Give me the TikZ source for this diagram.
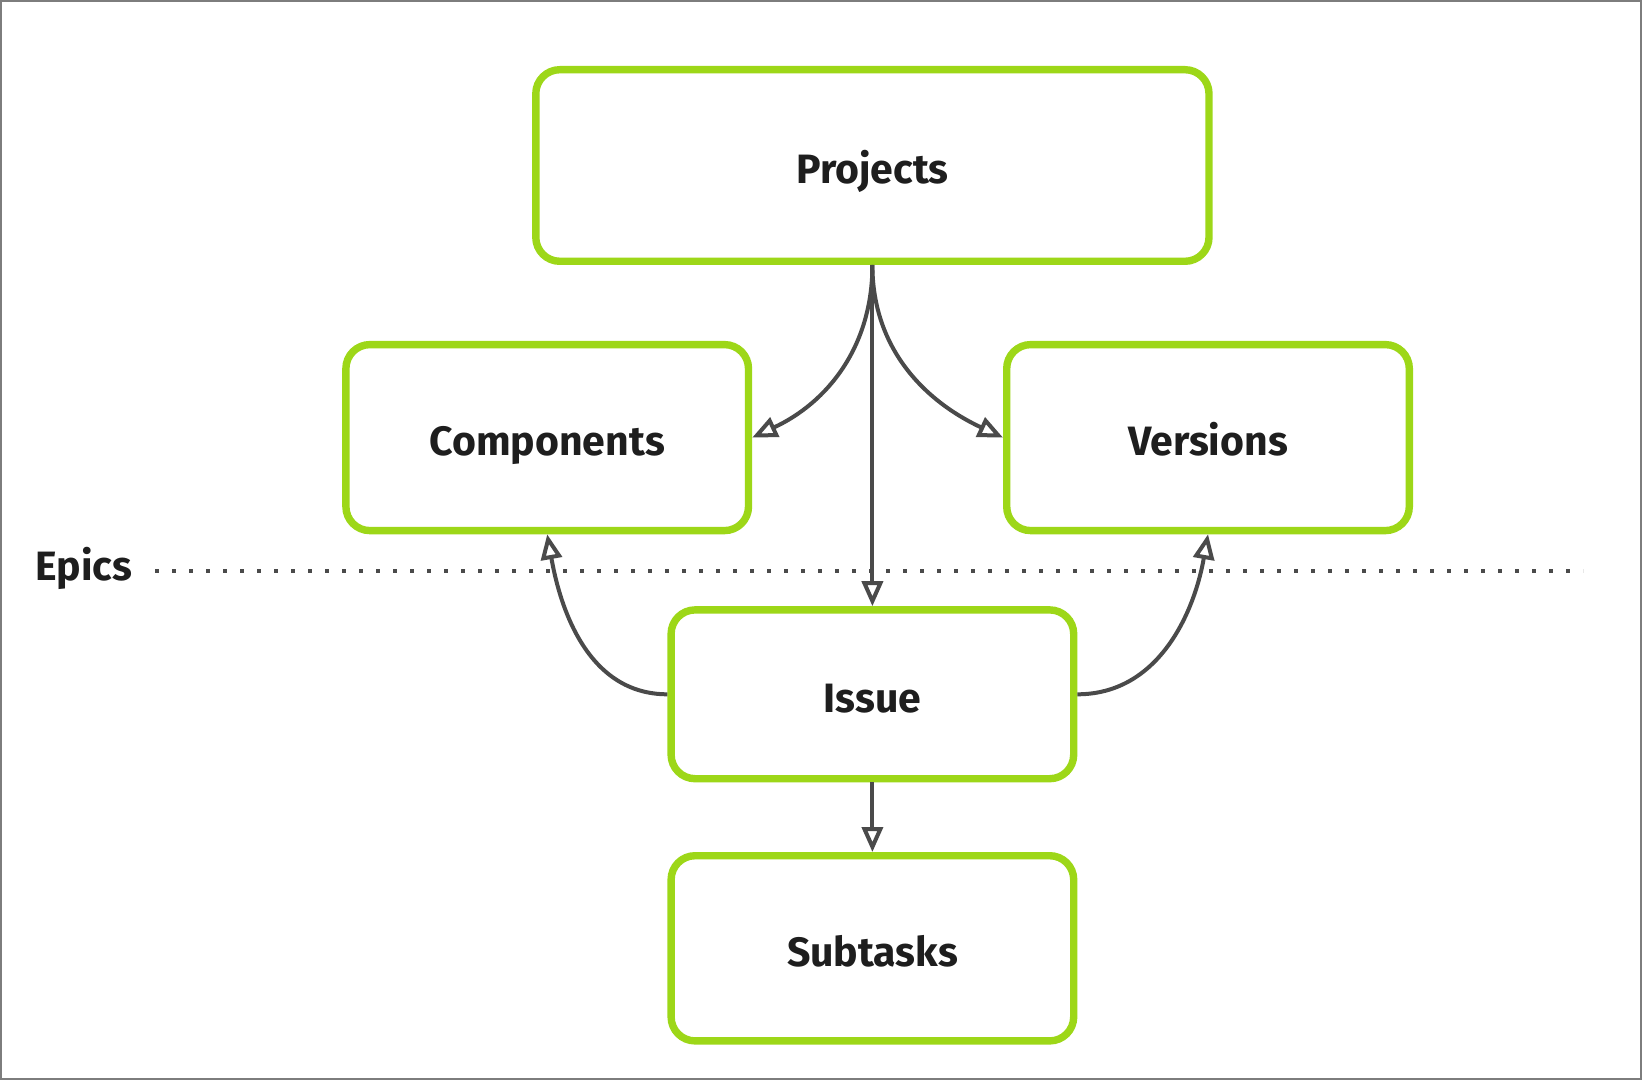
\documentclass[tikz,border=0pt]{standalone}
\usepackage{fontspec}
\setsansfont{Fira Sans}
\usetikzlibrary{positioning,calc}
\usetikzlibrary{arrows.meta}

\definecolor{boxgreen}{RGB}{157,215,24}
\definecolor{linegray}{RGB}{74,74,74}
\definecolor{textgray}{RGB}{30,30,30}
\definecolor{framegray}{RGB}{125,125,125}

\tikzset{
  box/.style={draw=boxgreen, line width=3.7pt, rounded corners=12pt,
    fill=white, minimum width=201.3pt, inner sep=0pt,
    text height=18pt, text depth=0pt,
    text=textgray, font=\sffamily\bfseries\fontsize{20.5}{25}\selectfont},
  link/.style={draw=linegray, line width=2pt,
    -{Triangle[open, length=12.5pt, width=10.5pt]}},
  level/.style={draw=linegray, line width=2pt, dash pattern=on 2pt off 6.5pt}
}

\begin{document}
\begin{tikzpicture}[x=1pt, y=1pt]
  \useasboundingbox (0,0) rectangle (821,-540);
  \draw[framegray, line width=1pt] (0.5,-0.5) rectangle (820.5,-539.5);

  \node[box, minimum width=336.6pt, minimum height=95.8pt] (proj) at (436.2,-82.75) {Projects};
  \node[box, minimum height=93pt] (comp) at (273.6,-218.8) {Components};
  \node[box, minimum height=93pt] (vers) at (604,-218.8) {Versions};
  \node[box, minimum height=84.4pt, below=170.6pt of proj] (issue) {Issue};
  \node[box, minimum height=92.6pt, below=34.8pt of issue] (sub) {Subtasks};

  % epics level
  \node[text=textgray, font=\sffamily\bfseries\fontsize{20.5}{25}\selectfont] (epics) at (42,-284) {Epics};
  \coordinate (lvl1) at (77.5,-285.5);
  \coordinate (lvl2) at (791.5,-285.5);
  \draw[level] (lvl1) -- (lvl2);

  \draw[link] (proj.south) to[out=-90, in=25] (comp.east);
  \draw[link] (proj.south) to[out=-90, in=155] (vers.west);
  \draw[link] (proj.south) -- (issue.north);
  \draw[link] (issue.west) to[out=180, in=-80] (comp.south);
  \draw[link] (issue.east) to[out=0, in=-100] (vers.south);
  \draw[link] (issue.south) -- (sub.north);
\end{tikzpicture}
\end{document}
